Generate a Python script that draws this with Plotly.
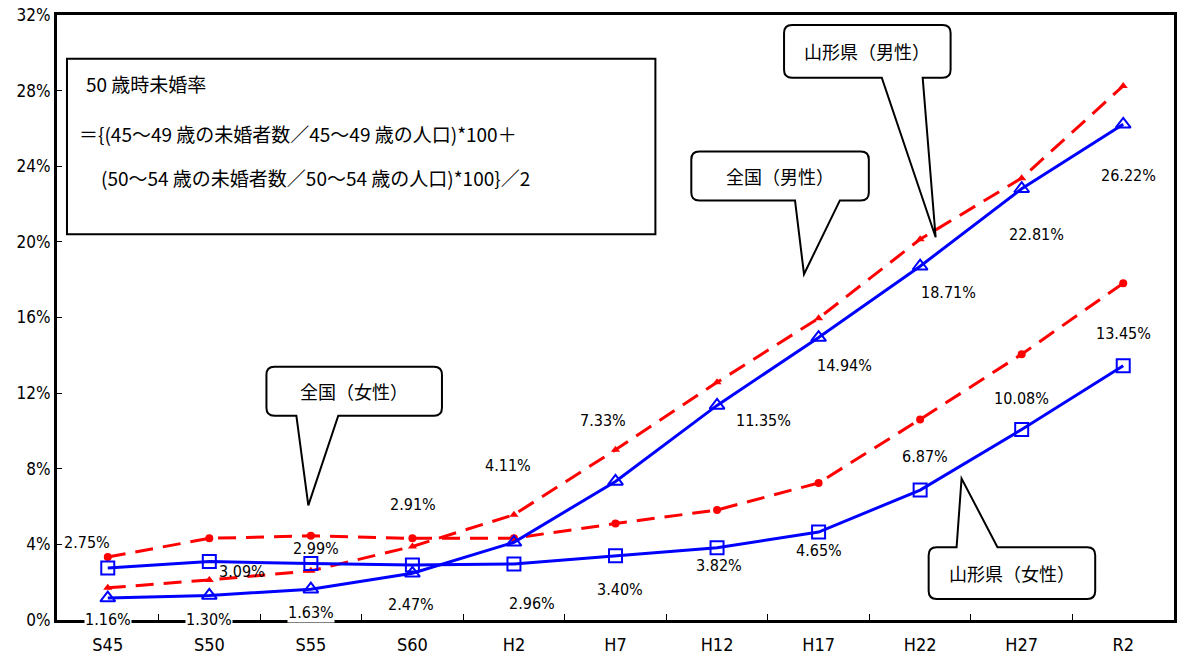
import plotly.graph_objects as go

# survey years (census)
years = ['S45', 'S50', 'S55', 'S60', 'H2', 'H7', 'H12', 'H17', 'H22', 'H27', 'R2']

# 50-year-old never-married rate (%)
yamagata_male = [1.16, 1.30, 1.63, 2.47, 4.11, 7.33, 11.35, 14.94, 18.71, 22.81, 26.22]
yamagata_female = [2.75, 3.09, 2.99, 2.91, 2.96, 3.40, 3.82, 4.65, 6.87, 10.08, 13.45]
national_male = [1.70, 2.12, 2.60, 3.89, 5.57, 9.00, 12.57, 15.96, 20.14, 23.37, 28.25]
national_female = [3.33, 4.32, 4.45, 4.32, 4.33, 5.10, 5.82, 7.25, 10.61, 14.06, 17.81]

y_ticks = [0, 4, 8, 12, 16, 20, 24, 28, 32]
y_tick_text = [f'{v}%' for v in y_ticks]

# label offsets in px (dx, dy) relative to each point
male_label_dx = [0, 0, 0, -1, -6, -13, 46, 26, 28, 15, 5]
male_label_dy = [-21, -24, -23, -31, 77, 61, -15, -28, -26, -46, -51]
female_label_dx = [-21, 33, 5, 1, 18, 4, 2, 0, 5, 0, 0]
female_label_dy = [26, -10, 15, 60, -39, -34, -18, -18, 34, 31, 32]
# labels that sit on an axis line get a white backing
male_label_bg = [True] * 11
female_label_bg = [True] + [False] * 10

W, H = 1179, 657
L, R, T, B = 57, 2, 15, 35
NUM_FONT = 'Liberation Sans Narrow, Arial Narrow, DejaVu Sans Condensed, sans-serif'
JP_FONT = 'Noto Sans CJK JP, sans-serif'


def px(x, y):
    # pixel -> paper coords
    return (x - L) / (W - L - R), (H - B - y) / (H - T - B)


def callout_path(x0, y0, x1, y1, b0, b1, tip, tail_top=False, r=8):
    def p(x, y):
        a, b = px(x, y)
        return f'{a:.5f},{b:.5f}'
    s = f'M {p(x0 + r, y0)} '
    if tail_top:
        s += f'L {p(b0, y0)} L {p(*tip)} L {p(b1, y0)} '
    s += f'L {p(x1 - r, y0)} Q {p(x1, y0)} {p(x1, y0 + r)} '
    s += f'L {p(x1, y1 - r)} Q {p(x1, y1)} {p(x1 - r, y1)} '
    if not tail_top:
        s += f'L {p(b1, y1)} L {p(*tip)} L {p(b0, y1)} '
    s += f'L {p(x0 + r, y1)} Q {p(x0, y1)} {p(x0, y1 - r)} '
    s += f'L {p(x0, y0 + r)} Q {p(x0, y0)} {p(x0 + r, y0)} Z'
    return s


fig = go.Figure()

fig.add_trace(go.Scatter(x=years, y=national_male, mode='lines+markers', name='全国(男性)',
                         line=dict(color='#ff0000', width=3, dash='18px,10px'),
                         marker=dict(symbol='triangle-up', size=8, color='#ff0000')))
fig.add_trace(go.Scatter(x=years, y=national_female, mode='lines+markers', name='全国(女性)',
                         line=dict(color='#ff0000', width=3, dash='18px,10px'),
                         marker=dict(symbol='circle', size=8, color='#ff0000')))
fig.add_trace(go.Scatter(x=years, y=yamagata_male, mode='lines+markers', name='山形県(男性)',
                         line=dict(color='#0000ff', width=3),
                         marker=dict(symbol='triangle-up-open', size=13, color='#0000ff',
                                     line=dict(width=2))))
fig.add_trace(go.Scatter(x=years, y=yamagata_female, mode='lines+markers', name='山形県(女性)',
                         line=dict(color='#0000ff', width=3),
                         marker=dict(symbol='square-open', size=13, color='#0000ff',
                                     line=dict(width=2))))

# value labels
for vals, dxs, dys, bgs in [(yamagata_male, male_label_dx, male_label_dy, male_label_bg),
                            (yamagata_female, female_label_dx, female_label_dy, female_label_bg)]:
    for yr, v, dx, dy, bg in zip(years, vals, dxs, dys, bgs):
        fig.add_annotation(x=yr, y=v, text=f'{v:.2f}%', showarrow=False,
                           xshift=dx, yshift=dy, borderpad=0,
                           bgcolor='white' if bg else 'rgba(0,0,0,0)',
                           font=dict(family=NUM_FONT, size=16, color='black'))

# speech bubbles
bubbles = [
    ('全国（女性）', (267, 368, 443, 417), 297, 339, (309, 507), False),
    ('全国（男性）', (693, 152, 871, 201), 797, 842, (806, 275), False),
    ('山形県（男性）', (786, 25, 953, 78), 884, 925, (938, 238), False),
    ('山形県（女性）', (931, 549, 1098, 601), 959, 1000, (964, 480), True),
]
for text, (x0, y0, x1, y1), b0, b1, tip, top in bubbles:
    fig.add_shape(type='path', xref='paper', yref='paper',
                  path=callout_path(x0, y0, x1, y1, b0, b1, tip, top),
                  line=dict(color='black', width=2), fillcolor='white')
    cx, cy = px((x0 + x1) / 2, (y0 + y1) / 2)
    fig.add_annotation(x=cx, y=cy, xref='paper', yref='paper', text=text, showarrow=False,
                       xanchor='center', yanchor='middle',
                       font=dict(family=JP_FONT, size=18, color='black'))

# formula box
bx0, by0 = px(67, 59)
bx1, by1 = px(657, 235)
fig.add_shape(type='rect', xref='paper', yref='paper', x0=bx0, y0=by0, x1=bx1, y1=by1,
              line=dict(color='black', width=2), fillcolor='white')
formula = [('50 歳時未婚率', 84, 84),
           ('＝{(45～49 歳の未婚者数／45～49 歳の人口)*100＋', 77, 134),
           ('(50～54 歳の未婚者数／50～54 歳の人口)*100}／2', 99, 178)]
for text, x, y in formula:
    ax, ay = px(x, y)
    fig.add_annotation(x=ax, y=ay, xref='paper', yref='paper', text=text, showarrow=False,
                       xanchor='left', yanchor='middle',
                       font=dict(family=JP_FONT, size=19, color='black'))

fig.update_layout(width=W, height=H, template='plotly_white', showlegend=False,
                  paper_bgcolor='white', plot_bgcolor='white',
                  margin=dict(l=L, r=R, t=T, b=B))
fig.update_xaxes(type='category', range=[-0.5, 10.5], showgrid=False,
                 showline=True, linecolor='black', linewidth=3, mirror=True,
                 ticks='inside', tickson='boundaries', ticklen=6, tickcolor='black',
                 ticklabelstandoff=6,
                 tickfont=dict(family=NUM_FONT, size=18, color='black'))
fig.update_yaxes(range=[0, 32], tickvals=y_ticks, ticktext=y_tick_text, showgrid=False,
                 zeroline=False, showline=True, linecolor='black', linewidth=3, mirror=True,
                 ticks='inside', ticklen=5, tickcolor='black',
                 tickfont=dict(family=NUM_FONT, size=17, color='black'))

fig.write_html("out.html", config={'displayModeBar': False},
               post_script="document.body.style.margin='0';")
